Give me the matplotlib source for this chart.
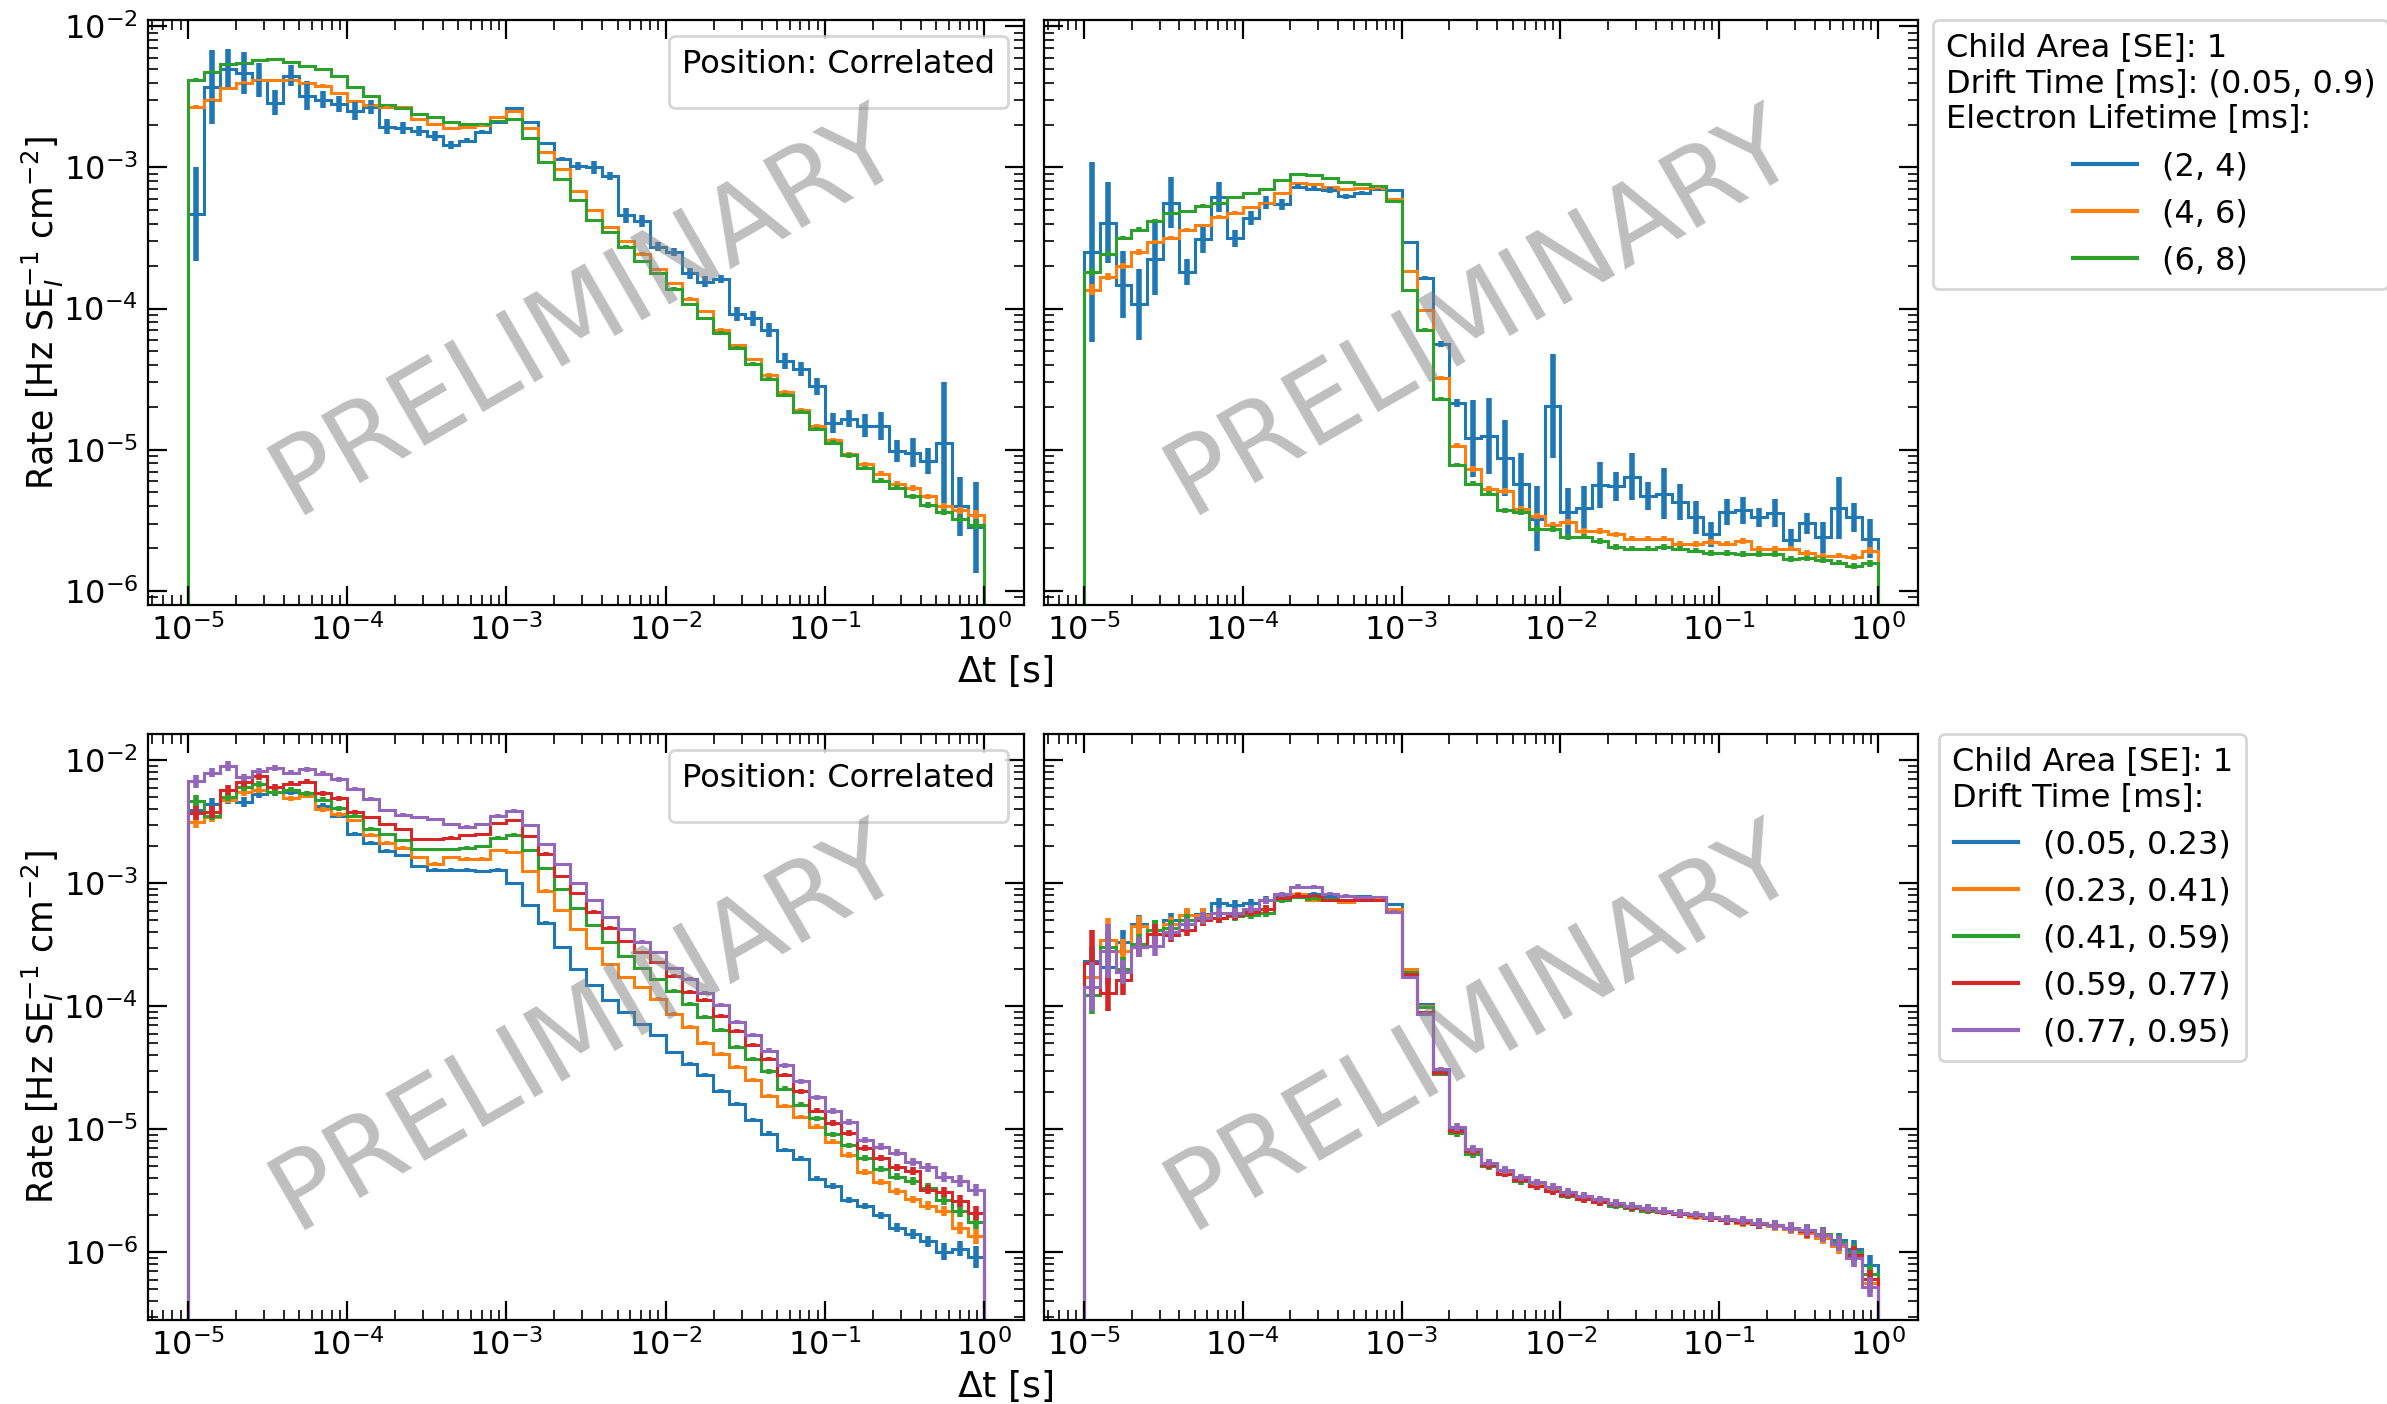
import numpy as np
import matplotlib
matplotlib.use('Agg')
import matplotlib.pyplot as plt
from matplotlib.lines import Line2D

plt.rcParams['font.size'] = 11.5

# 50 log-spaced bins between 1e-5 s and 1 s
edges = np.logspace(-5, 0, 51)

# ---- values (log10 of rate) ----
# top row: electron lifetime selection
tl_blue = [-3.33, -2.43, -2.30, -2.33, -2.38, -2.54, -2.35, -2.49, -2.52, -2.55,
           -2.60, -2.57, -2.71, -2.72, -2.74, -2.78, -2.84, -2.81, -2.75, -2.68,
           -2.58, -2.68, -2.83, -2.94, -2.99, -3.00, -3.06, -3.34, -3.38, -3.56,
           -3.60, -3.75, -3.81, -3.79, -4.04, -4.07, -4.15, -4.37, -4.43, -4.55,
           -4.81, -4.78, -4.83, -4.83, -5.01, -5.02, -5.08, -4.95, -5.40, -5.55]
tl_blue_err = [0.33, 0.26, 0.14, 0.15, 0.12, 0.09, 0.075, 0.10, 0.06, 0.06,
               0.065, 0.05, 0.05, 0.04, 0.035, 0.035, 0.03, 0.02, 0.015, 0.01,
               0.01, 0.01, 0.01, 0.015, 0.026, 0.045, 0.03, 0.05, 0.045, 0.03,
               0.03, 0.04, 0.04, 0.03, 0.05, 0.05, 0.05, 0.055, 0.05, 0.06,
               0.07, 0.06, 0.08, 0.10, 0.08, 0.10, 0.095, 0.43, 0.21, 0.32]
tl_orange = [-2.57, -2.52, -2.44, -2.40, -2.38, -2.38, -2.38, -2.40, -2.42, -2.47,
             -2.53, -2.56, -2.57, -2.57, -2.66, -2.69, -2.72, -2.71, -2.70, -2.64,
             -2.60, -2.72, -2.89, -3.01, -3.17, -3.30, -3.42, -3.52, -3.61, -3.72,
             -3.82, -3.93, -4.02, -4.15, -4.26, -4.36, -4.47, -4.59, -4.72, -4.83,
             -4.93, -5.03, -5.10, -5.17, -5.24, -5.27, -5.33, -5.40, -5.43, -5.46]
tl_orange_err = [0.015, 0.012, 0.01, 0.01, 0.01, 0.008, 0.008, 0.008, 0.008, 0.008,
                 0.006, 0.006, 0.006, 0.006, 0.006, 0.006, 0.006, 0.006, 0.006, 0.006,
                 0.006, 0.006, 0.006, 0.006, 0.008, 0.008, 0.008, 0.008, 0.008, 0.01,
                 0.01, 0.01, 0.01, 0.012, 0.012, 0.012, 0.012, 0.014, 0.014, 0.014,
                 0.016, 0.016, 0.016, 0.018, 0.018, 0.02, 0.02, 0.022, 0.024, 0.03]
tl_green = [-2.38, -2.32, -2.27, -2.26, -2.24, -2.23, -2.25, -2.28, -2.30, -2.35,
            -2.43, -2.49, -2.56, -2.58, -2.62, -2.64, -2.68, -2.69, -2.69, -2.67,
            -2.66, -2.79, -2.96, -3.08, -3.23, -3.37, -3.46, -3.56, -3.66, -3.75,
            -3.86, -3.97, -4.07, -4.17, -4.28, -4.39, -4.50, -4.61, -4.73, -4.85,
            -4.95, -5.04, -5.13, -5.22, -5.27, -5.33, -5.39, -5.44, -5.49, -5.53]
tl_green_err = [0.012, 0.01, 0.008, 0.008, 0.008, 0.006, 0.006, 0.006, 0.006, 0.006,
                0.006, 0.006, 0.006, 0.006, 0.006, 0.006, 0.006, 0.006, 0.006, 0.006,
                0.006, 0.006, 0.006, 0.006, 0.008, 0.008, 0.008, 0.008, 0.008, 0.01,
                0.01, 0.01, 0.01, 0.012, 0.012, 0.012, 0.012, 0.014, 0.014, 0.014,
                0.016, 0.016, 0.016, 0.018, 0.018, 0.02, 0.02, 0.022, 0.024, 0.03]

tr_blue = [-3.60, -3.39, -3.83, -3.97, -3.645, -3.25, -3.74, -3.51, -3.21, -3.50,
           -3.36, -3.25, -3.26, -3.135, -3.15, -3.16, -3.205, -3.18, -3.15, -3.16,
           -3.53, -3.78, -4.25, -4.67, -4.92, -4.905, -5.06, -5.24, -5.49, -4.69,
           -5.44, -5.41, -5.25, -5.26, -5.19, -5.33, -5.31, -5.37, -5.48, -5.60,
           -5.44, -5.43, -5.48, -5.45, -5.64, -5.52, -5.62, -5.41, -5.48, -5.63]
tr_blue_err = [0.64, 0.29, 0.24, 0.25, 0.26, 0.18, 0.09, 0.095, 0.105, 0.06,
               0.05, 0.045, 0.04, 0.02, 0.02, 0.02, 0.02, 0.015, 0.01, 0.01,
               0.01, 0.01, 0.02, 0.03, 0.27, 0.27, 0.27, 0.22, 0.23, 0.37,
               0.17, 0.15, 0.165, 0.10, 0.165, 0.10, 0.18, 0.13, 0.12, 0.09,
               0.09, 0.095, 0.07, 0.10, 0.08, 0.075, 0.11, 0.22, 0.10, 0.14]
tr_orange = [-3.865, -3.775, -3.70, -3.60, -3.53, -3.50, -3.44, -3.41, -3.35, -3.32,
             -3.28, -3.25, -3.18, -3.11, -3.12, -3.135, -3.15, -3.147, -3.147, -3.22,
             -3.73, -4.01, -4.49, -4.97, -5.135, -5.28, -5.29, -5.42, -5.47, -5.53,
             -5.51, -5.575, -5.575, -5.60, -5.63, -5.63, -5.63, -5.67, -5.67, -5.655,
             -5.665, -5.645, -5.70, -5.70, -5.70, -5.73, -5.75, -5.75, -5.76, -5.715]
tr_orange_err = [0.04, 0.025, 0.02, 0.02, 0.015, 0.015, 0.012, 0.012, 0.01, 0.01,
                 0.01, 0.008, 0.008, 0.006, 0.006, 0.006, 0.006, 0.006, 0.006, 0.006,
                 0.006, 0.008, 0.01, 0.015, 0.02, 0.02, 0.02, 0.02, 0.02, 0.02,
                 0.02, 0.02, 0.02, 0.02, 0.02, 0.02, 0.02, 0.02, 0.02, 0.02,
                 0.02, 0.02, 0.02, 0.02, 0.02, 0.02, 0.02, 0.02, 0.02, 0.025]
tr_green = [-3.74, -3.61, -3.50, -3.44, -3.38, -3.325, -3.31, -3.27, -3.25, -3.21,
            -3.18, -3.15, -3.09, -3.045, -3.05, -3.076, -3.10, -3.116, -3.128, -3.235,
            -3.87, -4.15, -4.64, -5.11, -5.24, -5.31, -5.43, -5.44, -5.56, -5.56,
            -5.62, -5.615, -5.645, -5.69, -5.70, -5.70, -5.69, -5.70, -5.715, -5.73,
            -5.73, -5.74, -5.74, -5.74, -5.775, -5.77, -5.78, -5.80, -5.825, -5.805]
tr_green_err = [0.03, 0.02, 0.015, 0.015, 0.012, 0.012, 0.01, 0.01, 0.008, 0.008,
                0.008, 0.006, 0.006, 0.006, 0.006, 0.006, 0.006, 0.006, 0.006, 0.006,
                0.008, 0.01, 0.012, 0.015, 0.02, 0.02, 0.02, 0.02, 0.02, 0.02,
                0.02, 0.02, 0.02, 0.02, 0.02, 0.02, 0.02, 0.02, 0.02, 0.02,
                0.02, 0.02, 0.02, 0.02, 0.02, 0.02, 0.02, 0.02, 0.02, 0.025]

# bottom row: drift time selection
bl_blue = [-2.405, -2.36, -2.32, -2.34, -2.275, -2.26, -2.26, -2.275, -2.37, -2.45,
           -2.60, -2.67, -2.735, -2.77, -2.86, -2.89, -2.89, -2.89, -2.90, -2.89,
           -3.00, -3.18, -3.32, -3.52, -3.70, -3.83, -3.95, -4.05, -4.145, -4.235,
           -4.375, -4.47, -4.555, -4.69, -4.795, -4.925, -5.035, -5.17, -5.24, -5.40,
           -5.46, -5.575, -5.625, -5.70, -5.80, -5.85, -5.91, -5.995, -5.97, -6.04]
bl_blue_err = [0.05, 0.05, 0.04, 0.04, 0.03, 0.03, 0.025, 0.02, 0.02, 0.02,
               0.015, 0.015, 0.01, 0.01, 0.01, 0.01, 0.01, 0.01, 0.01, 0.01,
               0.01, 0.01, 0.01, 0.01, 0.01, 0.01, 0.01, 0.01, 0.012, 0.012,
               0.012, 0.014, 0.014, 0.014, 0.016, 0.016, 0.018, 0.018, 0.02, 0.02,
               0.022, 0.025, 0.025, 0.03, 0.035, 0.04, 0.045, 0.07, 0.06, 0.09]
bl_orange = [-2.505, -2.465, -2.32, -2.26, -2.24, -2.26, -2.31, -2.29, -2.40, -2.44,
             -2.49, -2.61, -2.67, -2.71, -2.79, -2.84, -2.79, -2.80, -2.80, -2.73,
             -2.75, -2.90, -3.06, -3.22, -3.37, -3.53, -3.66, -3.76, -3.845, -3.94,
             -4.06, -4.17, -4.295, -4.385, -4.49, -4.60, -4.73, -4.81, -4.90, -4.98,
             -5.10, -5.21, -5.35, -5.43, -5.505, -5.57, -5.62, -5.665, -5.80, -5.87]
bl_orange_err = [0.05, 0.04, 0.03, 0.03, 0.025, 0.025, 0.02, 0.02, 0.02, 0.02,
                 0.015, 0.015, 0.01, 0.01, 0.01, 0.01, 0.01, 0.01, 0.01, 0.01,
                 0.01, 0.01, 0.01, 0.01, 0.01, 0.01, 0.01, 0.01, 0.012, 0.012,
                 0.012, 0.014, 0.014, 0.014, 0.016, 0.016, 0.018, 0.018, 0.02, 0.02,
                 0.022, 0.022, 0.025, 0.025, 0.03, 0.03, 0.035, 0.04, 0.05, 0.06]
bl_green = [-2.335, -2.45, -2.30, -2.22, -2.19, -2.26, -2.24, -2.27, -2.32, -2.39,
            -2.45, -2.56, -2.60, -2.65, -2.72, -2.72, -2.72, -2.71, -2.70, -2.63,
            -2.605, -2.73, -2.88, -3.05, -3.20, -3.34, -3.48, -3.59, -3.69, -3.78,
            -3.875, -3.98, -4.085, -4.19, -4.33, -4.43, -4.53, -4.67, -4.80, -4.91,
            -5.04, -5.13, -5.23, -5.32, -5.385, -5.42, -5.475, -5.575, -5.66, -5.75]
bl_green_err = [0.05, 0.04, 0.03, 0.03, 0.025, 0.025, 0.02, 0.02, 0.02, 0.02,
                0.015, 0.015, 0.01, 0.01, 0.01, 0.01, 0.01, 0.01, 0.01, 0.01,
                0.01, 0.01, 0.01, 0.01, 0.01, 0.01, 0.01, 0.01, 0.012, 0.012,
                0.012, 0.014, 0.014, 0.014, 0.016, 0.016, 0.018, 0.018, 0.02, 0.02,
                0.022, 0.022, 0.025, 0.025, 0.03, 0.03, 0.035, 0.04, 0.05, 0.06]
bl_red = [-2.43, -2.42, -2.24, -2.18, -2.13, -2.22, -2.19, -2.175, -2.27, -2.31,
          -2.42, -2.465, -2.52, -2.56, -2.64, -2.64, -2.63, -2.61, -2.60, -2.51,
          -2.49, -2.62, -2.76, -2.94, -3.08, -3.23, -3.36, -3.47, -3.56, -3.64,
          -3.75, -3.88, -3.95, -4.08, -4.20, -4.315, -4.43, -4.56, -4.69, -4.85,
          -4.95, -5.03, -5.155, -5.23, -5.31, -5.34, -5.49, -5.51, -5.58, -5.68]
bl_red_err = [0.06, 0.05, 0.04, 0.04, 0.03, 0.025, 0.02, 0.02, 0.02, 0.02,
              0.015, 0.015, 0.01, 0.01, 0.01, 0.01, 0.01, 0.01, 0.01, 0.01,
              0.01, 0.01, 0.01, 0.01, 0.01, 0.01, 0.01, 0.01, 0.012, 0.012,
              0.012, 0.014, 0.014, 0.014, 0.016, 0.016, 0.018, 0.018, 0.02, 0.02,
              0.022, 0.022, 0.025, 0.025, 0.03, 0.03, 0.035, 0.04, 0.05, 0.06]
bl_purple = [-2.173, -2.10, -2.046, -2.14, -2.09, -2.06, -2.10, -2.073, -2.11, -2.154,
             -2.235, -2.316, -2.405, -2.443, -2.46, -2.48, -2.52, -2.54, -2.52, -2.45,
             -2.41, -2.53, -2.68, -2.846, -3.00, -3.14, -3.275, -3.37, -3.475, -3.56,
             -3.69, -3.78, -3.89, -3.99, -4.125, -4.23, -4.36, -4.48, -4.61, -4.74,
             -4.85, -4.94, -5.085, -5.14, -5.19, -5.265, -5.31, -5.385, -5.42, -5.495]
bl_purple_err = [0.05, 0.04, 0.04, 0.03, 0.025, 0.025, 0.02, 0.02, 0.02, 0.02,
                 0.015, 0.015, 0.01, 0.01, 0.01, 0.01, 0.01, 0.01, 0.01, 0.01,
                 0.01, 0.01, 0.01, 0.01, 0.01, 0.01, 0.01, 0.01, 0.012, 0.012,
                 0.012, 0.014, 0.014, 0.014, 0.016, 0.016, 0.018, 0.018, 0.02, 0.02,
                 0.022, 0.022, 0.025, 0.025, 0.03, 0.03, 0.035, 0.04, 0.045, 0.05]

br_blue = [-3.63, -3.68, -3.48, -3.335, -3.38, -3.30, -3.26, -3.25, -3.16, -3.18,
           -3.16, -3.135, -3.10, -3.09, -3.09, -3.10, -3.105, -3.105, -3.11, -3.17,
           -3.71, -3.98, -4.53, -5.00, -5.17, -5.27, -5.34, -5.40, -5.44, -5.48,
           -5.52, -5.55, -5.58, -5.60, -5.62, -5.64, -5.66, -5.68, -5.70, -5.71,
           -5.73, -5.75, -5.76, -5.78, -5.80, -5.82, -5.85, -5.90, -5.97, -6.10]
br_blue_err = [0.12, 0.15, 0.10, 0.08, 0.08, 0.06, 0.05, 0.05, 0.04, 0.04,
               0.03, 0.03, 0.02, 0.02, 0.015, 0.01, 0.01, 0.01, 0.01, 0.01,
               0.01, 0.01, 0.02, 0.03, 0.03, 0.03, 0.03, 0.03, 0.03, 0.03,
               0.03, 0.03, 0.03, 0.03, 0.03, 0.03, 0.03, 0.03, 0.03, 0.035,
               0.035, 0.035, 0.04, 0.04, 0.045, 0.05, 0.055, 0.06, 0.07, 0.08]
br_orange = [-3.76, -3.46, -3.55, -3.35, -3.41, -3.335, -3.255, -3.255, -3.28, -3.25,
             -3.23, -3.21, -3.12, -3.09, -3.14, -3.14, -3.15, -3.135, -3.13, -3.21,
             -3.70, -4.00, -4.55, -5.02, -5.19, -5.28, -5.35, -5.41, -5.45, -5.49,
             -5.53, -5.56, -5.59, -5.61, -5.63, -5.65, -5.67, -5.69, -5.71, -5.72,
             -5.74, -5.76, -5.77, -5.79, -5.81, -5.84, -5.88, -5.95, -6.05, -6.25]
br_orange_err = [0.15, 0.18, 0.10, 0.08, 0.08, 0.06, 0.05, 0.05, 0.04, 0.04,
                 0.03, 0.03, 0.02, 0.02, 0.015, 0.01, 0.01, 0.01, 0.01, 0.01,
                 0.01, 0.01, 0.02, 0.03, 0.03, 0.03, 0.03, 0.03, 0.03, 0.03,
                 0.03, 0.03, 0.03, 0.03, 0.03, 0.03, 0.03, 0.03, 0.03, 0.035,
                 0.035, 0.035, 0.04, 0.04, 0.045, 0.05, 0.055, 0.06, 0.07, 0.08]
br_green = [-3.91, -3.52, -3.70, -3.49, -3.38, -3.36, -3.30, -3.30, -3.28, -3.27,
            -3.26, -3.245, -3.14, -3.11, -3.125, -3.13, -3.135, -3.135, -3.135, -3.23,
            -3.72, -4.005, -4.55, -5.03, -5.20, -5.30, -5.36, -5.42, -5.46, -5.50,
            -5.54, -5.56, -5.59, -5.62, -5.64, -5.66, -5.67, -5.69, -5.70, -5.72,
            -5.74, -5.75, -5.77, -5.78, -5.80, -5.82, -5.85, -5.92, -6.00, -6.18]
br_green_err = [0.15, 0.12, 0.10, 0.08, 0.08, 0.06, 0.05, 0.05, 0.04, 0.04,
                0.03, 0.03, 0.02, 0.02, 0.015, 0.01, 0.01, 0.01, 0.01, 0.01,
                0.01, 0.01, 0.02, 0.03, 0.03, 0.03, 0.03, 0.03, 0.03, 0.03,
                0.03, 0.03, 0.03, 0.03, 0.03, 0.03, 0.03, 0.03, 0.03, 0.035,
                0.035, 0.035, 0.04, 0.04, 0.045, 0.05, 0.055, 0.06, 0.07, 0.08]
br_red = [-3.65, -3.89, -3.79, -3.52, -3.41, -3.42, -3.38, -3.30, -3.28, -3.255,
          -3.235, -3.21, -3.12, -3.10, -3.10, -3.14, -3.14, -3.14, -3.14, -3.23,
          -3.74, -4.05, -4.54, -5.01, -5.18, -5.29, -5.36, -5.41, -5.46, -5.50,
          -5.53, -5.57, -5.59, -5.61, -5.63, -5.65, -5.67, -5.69, -5.70, -5.72,
          -5.74, -5.75, -5.77, -5.78, -5.80, -5.83, -5.86, -5.93, -6.02, -6.22]
br_red_err = [0.27, 0.15, 0.12, 0.08, 0.08, 0.06, 0.05, 0.05, 0.04, 0.04,
              0.03, 0.03, 0.02, 0.02, 0.015, 0.01, 0.01, 0.01, 0.01, 0.01,
              0.01, 0.01, 0.02, 0.03, 0.03, 0.03, 0.03, 0.03, 0.03, 0.03,
              0.03, 0.03, 0.03, 0.03, 0.03, 0.03, 0.03, 0.03, 0.03, 0.035,
              0.035, 0.035, 0.04, 0.04, 0.045, 0.05, 0.055, 0.06, 0.07, 0.08]
br_purple = [-3.84, -3.55, -3.72, -3.52, -3.51, -3.40, -3.33, -3.28, -3.245, -3.245,
             -3.21, -3.14, -3.09, -3.03, -3.03, -3.085, -3.10, -3.11, -3.11, -3.23,
             -3.76, -4.06, -4.51, -4.98, -5.16, -5.27, -5.33, -5.39, -5.43, -5.47,
             -5.51, -5.54, -5.57, -5.60, -5.62, -5.64, -5.66, -5.68, -5.69, -5.71,
             -5.73, -5.74, -5.76, -5.78, -5.80, -5.82, -5.86, -5.93, -6.05, -6.28]
br_purple_err = [0.20, 0.22, 0.10, 0.08, 0.08, 0.06, 0.05, 0.05, 0.04, 0.04,
                 0.03, 0.03, 0.02, 0.02, 0.015, 0.01, 0.01, 0.01, 0.01, 0.01,
                 0.01, 0.01, 0.02, 0.03, 0.03, 0.03, 0.03, 0.03, 0.03, 0.03,
                 0.03, 0.03, 0.03, 0.03, 0.03, 0.03, 0.03, 0.03, 0.03, 0.035,
                 0.035, 0.035, 0.04, 0.04, 0.045, 0.05, 0.055, 0.06, 0.07, 0.08]

lifetime_labels = ['(2, 4)', '(4, 6)', '(6, 8)']
drift_labels = ['(0.05, 0.23)', '(0.23, 0.41)', '(0.41, 0.59)', '(0.59, 0.77)', '(0.77, 0.95)']
colors = ['#1f77b4', '#ff7f0e', '#2ca02c', '#d62728', '#9467bd']

centers = np.sqrt(edges[:-1] * edges[1:])


def draw(ax, vals, errs):
    for i, (v, e) in enumerate(zip(vals, errs)):
        y = 10 ** np.array(v)
        d = np.array(e)
        lo = y * (1 - 10 ** -d)
        hi = y * (10 ** d - 1)
        ax.stairs(y, edges, color=colors[i], lw=1.1, baseline=0)
        ax.errorbar(centers, y, yerr=[lo, hi], fmt='none', ecolor=colors[i], elinewidth=2.0)


def style(ax, ylim, position):
    ax.set_xscale('log')
    ax.set_yscale('log')
    ax.set_xlim(10 ** -5.25, 10 ** 0.25)
    ax.set_ylim(*ylim)
    ax.tick_params(which='both', direction='in', top=True, right=True, labelsize=11.5)
    ax.tick_params(which='major', length=7)
    ax.tick_params(which='minor', length=3.5)
    ax.text(0.5, 0.5, 'PRELIMINARY', transform=ax.transAxes, fontsize=38.5,
            color='gray', alpha=0.5, rotation=30, ha='center', va='center', zorder=10)
    ax.legend(handles=[], title='Position: ' + position,
              loc='upper right', title_fontsize=11.5, fontsize=11.5)


W, H = 2387, 1404
fig = plt.figure(figsize=(W / 200, H / 200), dpi=200)

ax_tl = fig.add_axes([148 / W, 1 - 605 / H, 876 / W, 585 / H])
ax_tr = fig.add_axes([1044 / W, 1 - 605 / H, 874 / W, 585 / H], sharey=ax_tl)
ax_bl = fig.add_axes([148 / W, 1 - 1320 / H, 876 / W, 586 / H])
ax_br = fig.add_axes([1044 / W, 1 - 1320 / H, 874 / W, 586 / H], sharey=ax_bl)

draw(ax_tl, [tl_blue, tl_orange, tl_green], [tl_blue_err, tl_orange_err, tl_green_err])
draw(ax_tr, [tr_blue, tr_orange, tr_green], [tr_blue_err, tr_orange_err, tr_green_err])
draw(ax_bl, [bl_blue, bl_orange, bl_green, bl_red, bl_purple],
     [bl_blue_err, bl_orange_err, bl_green_err, bl_red_err, bl_purple_err])
draw(ax_br, [br_blue, br_orange, br_green, br_red, br_purple],
     [br_blue_err, br_orange_err, br_green_err, br_red_err, br_purple_err])

top_ylim = (10 ** -6.10, 10 ** -1.955)
bot_ylim = (10 ** -6.55, 10 ** -1.787)
style(ax_tl, top_ylim, 'Correlated')
style(ax_tr, top_ylim, 'Uncorrelated')
style(ax_bl, bot_ylim, 'Correlated')
style(ax_br, bot_ylim, 'Uncorrelated')
ax_tr.tick_params(labelleft=False)
ax_br.tick_params(labelleft=False)

ylab = 'Rate [Hz SE$_I^{-1}$ cm$^{-2}$]'
for ax in (ax_tl, ax_bl):
    ax.set_ylabel(ylab, fontsize=12.5)
    ax.yaxis.set_label_coords(-0.094, 0.5)

fig.text(1005 / W, 1 - 671 / H, r'$\Delta$t [s]', fontsize=13, ha='center', va='center')
fig.text(1005 / W, 1 - 1386 / H, r'$\Delta$t [s]', fontsize=13, ha='center', va='center')

h3 = [Line2D([], [], color=c) for c in colors[:3]]
ax_tr.legend(h3, lifetime_labels,
             title='Child Area [SE]: 1\nDrift Time [ms]: (0.05, 0.9)\nElectron Lifetime [ms]:',
             loc='upper left', bbox_to_anchor=(1.017, 1.0), borderaxespad=0,
             fontsize=11.5, title_fontsize=11.5)
h5 = [Line2D([], [], color=c) for c in colors]
ax_br.legend(h5, drift_labels, title='Child Area [SE]: 1\nDrift Time [ms]:',
             loc='upper left', bbox_to_anchor=(1.024, 1.0), borderaxespad=0,
             fontsize=11.5, title_fontsize=11.5)

plt.savefig('out.png', dpi=200)
